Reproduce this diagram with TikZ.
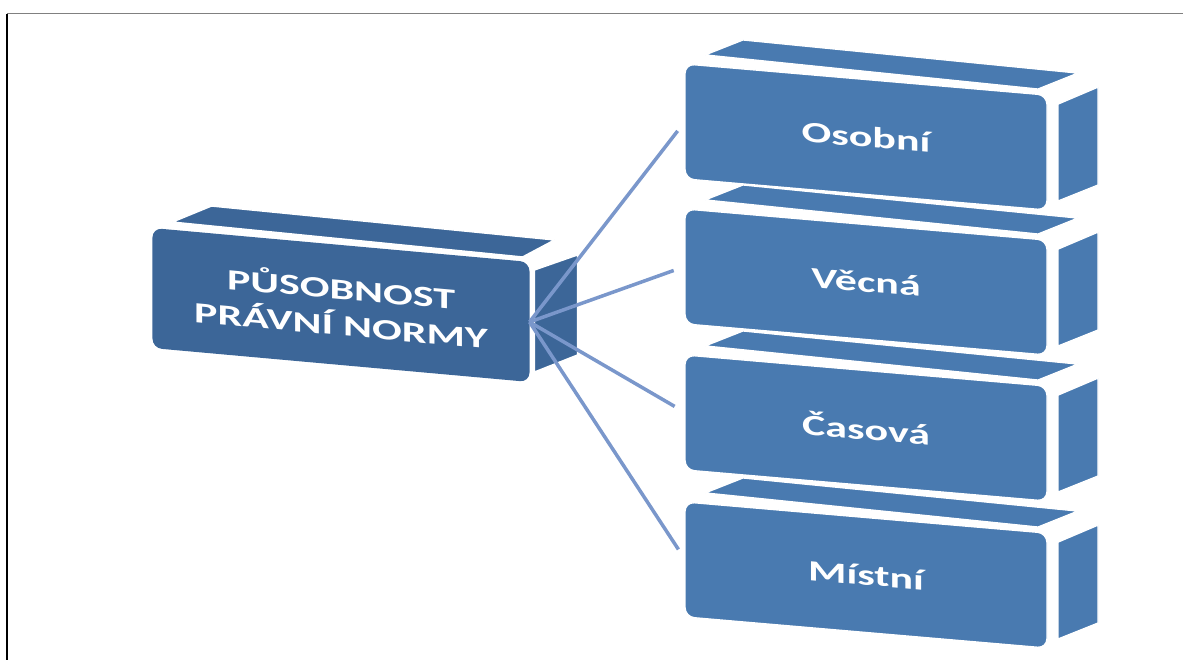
\documentclass[tikz,border=0pt]{standalone}
\usepackage{fontspec}
\setmainfont{Carlito}
\usepackage{graphicx}
\usetikzlibrary{calc}
\definecolor{kostkaL}{RGB}{60,102,152}
\definecolor{kostkaR}{RGB}{73,122,176}
\definecolor{barvaPaprsku}{RGB}{122,151,203}
\newcommand{\siroky}[1]{\scalebox{1.5}[1]{#1}}

\begin{document}
\begin{tikzpicture}[x=0.03cm,y=-0.03cm,
    celo/.style={rounded corners=8pt,inner sep=0pt,outer sep=0pt,text=white,
      font=\bfseries\fontsize{25}{31}\selectfont,align=center},
    stena/.style={draw=white,line width=1.2pt},
    paprsek/.style={barvaPaprsku,line width=3pt,shorten >=0.36cm}]
      \useasboundingbox (0,0) rectangle (1183,660);
      \draw[gray,line width=1.2pt] (7,13.5)--(1183,13.5);
      \draw[black,line width=0.9pt] (7,13.5)--(7,660);
      % leva kostka
      \node[celo,fill=kostkaL,yslant=-0.09,minimum width=11.31cm,minimum height=3.6cm] (norma) at (341,305)
        {\siroky{PŮSOBNOST}\\\siroky{PRÁVNÍ NORMY}};
      \fill[kostkaL,stena] ($(norma.north west)+(20,-6)$) -- ($(norma.north west)+(59,-22)$)
        -- ($(norma.north east)+(25,-22)$) -- ($(norma.north east)+(-7,-5)$) -- cycle;
      \fill[kostkaL,stena] ($(norma.north east)+(5,8)$) -- ($(norma.north east)+(48,-7)$)
        -- ($(norma.south east)+(48,-27)$) -- ($(norma.south east)+(5,-10)$) -- cycle;
      % prave kostky
      \foreach \y/\jm/\txt in {137/osobni/Osobní,282/vecna/Věcná,428/casova/Časová,575/mistni/Místní}{
        \node[celo,fill=kostkaR,stena,yslant=-0.086,minimum width=10.86cm,minimum height=3.45cm] (\jm) at (866,\y)
          {\siroky{\txt}};
        \fill[kostkaR,stena] ($(\jm.north west)+(20,-9)$) -- ($(\jm.north west)+(58,-24)$)
          -- ($(\jm.north east)+(31,-22)$) -- ($(\jm.north east)+(-9,-6)$) -- cycle;
        \fill[kostkaR,stena] ($(\jm.north east)+(11,9)$) -- ($(\jm.north east)+(51,-8)$)
          -- ($(\jm.south east)+(51,-25)$) -- ($(\jm.south east)+(11,-9)$) -- cycle;
      }
      % paprsky
      \foreach \jm in {osobni,vecna,casova,mistni}
        \draw[paprsek] (norma.east) -- (\jm.west);
\end{tikzpicture}
\end{document}
